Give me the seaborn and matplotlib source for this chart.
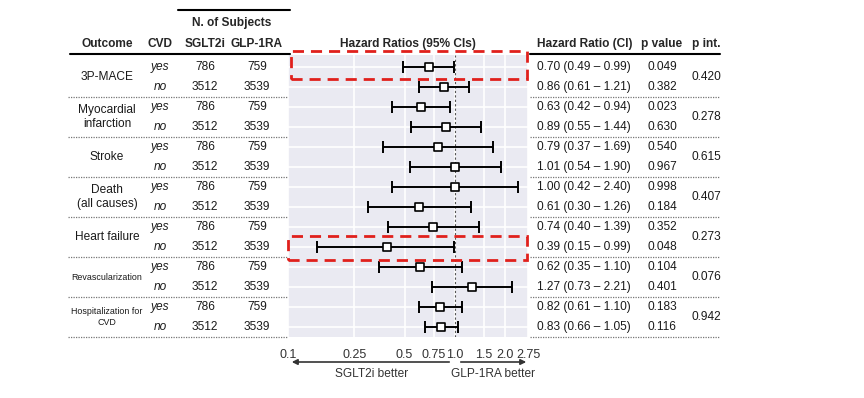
import numpy as np
import matplotlib
matplotlib.use("Agg")
import matplotlib.pyplot as plt
import matplotlib.transforms as mtransforms
from matplotlib.patches import Rectangle
import seaborn as sns
import pandas as pd

# ---------------- data ----------------
outcomes = ["3P-MACE", "Myocardial\ninfarction", "Stroke", "Death\n(all causes)",
            "Heart failure", "Revascularization", "Hospitalization for\nCVD"]
cvd = ["yes", "no"] * 7
n_sglt2i = [786, 3512] * 7
n_glp1ra = [759, 3539] * 7
hr = [0.70, 0.86, 0.63, 0.89, 0.79, 1.01, 1.00, 0.61, 0.74, 0.39, 0.62, 1.27, 0.82, 0.83]
ci_low = [0.49, 0.61, 0.42, 0.55, 0.37, 0.54, 0.42, 0.30, 0.40, 0.15, 0.35, 0.73, 0.61, 0.66]
ci_high = [0.99, 1.21, 0.94, 1.44, 1.69, 1.90, 2.40, 1.26, 1.39, 0.99, 1.10, 2.21, 1.10, 1.05]
p_value = ["0.049", "0.382", "0.023", "0.630", "0.540", "0.967", "0.998", "0.184",
           "0.352", "0.048", "0.104", "0.401", "0.183", "0.116"]
p_int = ["0.420", "0.278", "0.615", "0.407", "0.273", "0.076", "0.942"]
xticks = [0.1, 0.25, 0.5, 0.75, 1.0, 1.5, 2.0, 2.75]
xticklabels = ["0.1", "0.25", "0.5", "0.75", "1.0", "1.5", "2.0", "2.75"]

df = pd.DataFrame({"row": np.arange(len(hr)), "hr": hr, "lo": ci_low, "hi": ci_high})

# ---------------- style ----------------
sns.set_theme(style="darkgrid")
plt.rcParams["font.family"] = ["Liberation Sans", "DejaVu Sans"]

W, H = 864, 398
fig = plt.figure(figsize=(W / 100, H / 100), dpi=100)
fig.patch.set_facecolor("white")

def fx(px):
    return px / W

def fy(py):
    return 1 - py / H

ax = fig.add_axes([fx(288), fy(337), fx(528) - fx(288), (337 - 55) / H])
ax.set_facecolor("#EAEAF2")

# CIs
ax.errorbar(df["hr"], df["row"],
            xerr=[df["hr"] - df["lo"], df["hi"] - df["hr"]],
            fmt="none", ecolor="black", elinewidth=1.4, capsize=4.5, capthick=1.4, zorder=3)
sns.scatterplot(data=df, x="hr", y="row", marker="s", s=40, color="white",
                edgecolor="black", linewidth=1.2, zorder=4, ax=ax, legend=False)
ax.axvline(1.0, color="#555555", ls=(0, (2, 2)), lw=0.8, zorder=2)

ax.set_xscale("log")
ax.set_xlim(0.1, 2.75)
ax.set_ylim(13.5, -0.6)
ax.set_xticks(xticks)
ax.set_xticklabels(xticklabels)
ax.xaxis.set_minor_locator(matplotlib.ticker.NullLocator())
ax.set_yticks(np.arange(14))
ax.set_yticklabels([])
ax.tick_params(axis="both", length=0, labelsize=9, colors="#333333", pad=9)
ax.set_xlabel("")
ax.set_ylabel("")
ax.grid(True, color="white", lw=1.2)
for s in ax.spines.values():
    s.set_visible(False)

trans = mtransforms.blended_transform_factory(fig.transFigure, ax.transData)
fs = 8.6
txtc = "#1a1a1a"

# headers
hy = fy(44)
fig.text(fx(107), hy, "Outcome", ha="center", va="center", fontsize=fs, fontweight="bold")
fig.text(fx(160), hy, "CVD", ha="center", va="center", fontsize=fs, fontweight="bold")
fig.text(fx(205), hy, "SGLT2i", ha="center", va="center", fontsize=fs, fontweight="bold")
fig.text(fx(257), hy, "GLP-1RA", ha="center", va="center", fontsize=fs, fontweight="bold")
fig.text(fx(232), fy(23), "N. of Subjects", ha="center", va="center", fontsize=fs, fontweight="bold")
fig.text(fx(408), hy, "Hazard Ratios (95% CIs)", ha="center", va="center", fontsize=fs, fontweight="bold")
fig.text(fx(537), hy, "Hazard Ratio (CI)", ha="left", va="center", fontsize=fs, fontweight="bold")
fig.text(fx(662), hy, "p value", ha="center", va="center", fontsize=fs, fontweight="bold")
fig.text(fx(692), hy, "p int.", ha="left", va="center", fontsize=fs, fontweight="bold")

# header lines
fig.add_artist(plt.Line2D([fx(178), fx(290)], [fy(10), fy(10)], color="black", lw=1.5))
fig.add_artist(plt.Line2D([fx(70), fx(290)], [fy(54), fy(54)], color="black", lw=1.5))
fig.add_artist(plt.Line2D([fx(530), fx(720)], [fy(54), fy(54)], color="black", lw=1.5))

# rows
for i in range(len(hr)):
    ax.text(fx(160), i, cvd[i], transform=trans, ha="center", va="center",
            fontsize=fs, style="italic", color=txtc, clip_on=False)
    ax.text(fx(205), i, str(n_sglt2i[i]), transform=trans, ha="center", va="center",
            fontsize=fs, color=txtc, clip_on=False)
    ax.text(fx(257), i, str(n_glp1ra[i]), transform=trans, ha="center", va="center",
            fontsize=fs, color=txtc, clip_on=False)
    ax.text(fx(537), i, f"{hr[i]:.2f} ({ci_low[i]:.2f} \u2013 {ci_high[i]:.2f})", transform=trans,
            ha="left", va="center", fontsize=fs, color=txtc, clip_on=False)
    ax.text(fx(662), i, p_value[i], transform=trans, ha="center", va="center",
            fontsize=fs, color=txtc, clip_on=False)

for k, name in enumerate(outcomes):
    small = name.startswith("Revasc") or name.startswith("Hosp")
    ax.text(fx(107), 2 * k + 0.5, name, transform=trans, ha="center", va="center",
            fontsize=6.4 if small else fs, color=txtc, linespacing=1.15, clip_on=False)
    ax.text(fx(706), 2 * k + 0.5, p_int[k], transform=trans, ha="center", va="center",
            fontsize=fs, color=txtc, clip_on=False)
    yl = 2 * k + 1.5
    for x0, x1 in [(68, 288), (530, 720)]:
        ax.plot([fx(x0), fx(x1)], [yl, yl], transform=trans, color="#777777",
                lw=0.9, ls=(0, (1, 1)), clip_on=False)

# highlight boxes
for (x0, y0, x1, y1) in [(291, 51, 527, 79), (288, 236, 527, 260)]:
    fig.add_artist(Rectangle((fx(x0), fy(y1)), fx(x1) - fx(x0), (y1 - y0) / H,
                             transform=fig.transFigure, fill=False, edgecolor="#E0201C",
                             lw=2, ls=(0, (4, 2.5)), zorder=10))

# direction arrows
fig.add_artist(matplotlib.patches.FancyArrowPatch((fx(452), fy(362)), (fx(289), fy(362)),
               transform=fig.transFigure, arrowstyle="-|>", mutation_scale=8, color="#333333", lw=1.2))
fig.add_artist(matplotlib.patches.FancyArrowPatch((fx(458), fy(362)), (fx(529), fy(362)),
               transform=fig.transFigure, arrowstyle="-|>", mutation_scale=8, color="#333333", lw=1.2))
fig.text(fx(372), fy(374), "SGLT2i better", ha="center", va="center", fontsize=fs, color="#333333")
fig.text(fx(493), fy(374), "GLP-1RA better", ha="center", va="center", fontsize=fs, color="#333333")

fig.savefig("out.png", dpi=100, facecolor="white")
